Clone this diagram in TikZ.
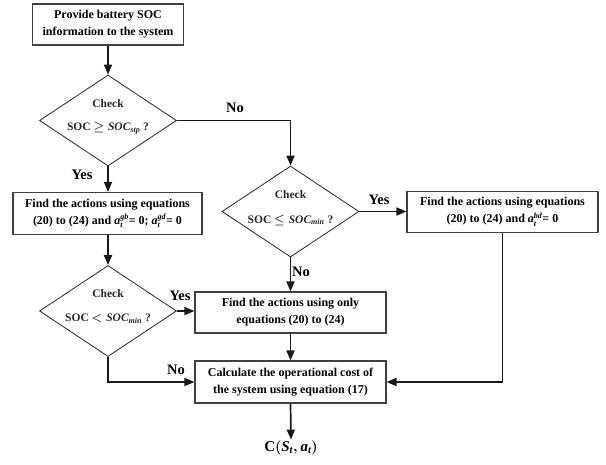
\documentclass[tikz,border=0pt]{standalone}
\usepackage{fontspec}
\setmainfont{Liberation Serif}
\usetikzlibrary{arrows.meta,shapes.geometric}
\begin{document}
\boldmath
\begin{tikzpicture}[x=1pt,y=-1pt,
  box/.style={draw=black!75, line width=1.1pt, align=center, inner sep=0pt,
    font=\fontsize{12}{17}\selectfont\bfseries},
  dia/.style={draw=black!85, line width=0.8pt, diamond, inner sep=0pt,
    minimum width=137pt, minimum height=91pt},
  dtxt/.style={inner sep=0pt, text=black!85, font=\fontsize{11.5}{14}\selectfont\bfseries},
  lbl/.style={inner sep=0pt, font=\fontsize{14.5}{16}\selectfont\bfseries},
  arr/.style={line width=1.7pt, draw=black!90, -{Triangle[length=10pt,width=8pt]}}]
\useasboundingbox (0,0) rectangle (606,464);
% boxes
\node[box, minimum width=151pt, minimum height=41pt] (b1) at (108,24.5)
  {Provide battery SOC\\information to the system};
\node[dia] (d1) at (108,120.5) {};
\node[dtxt] (d1a) at (108,103.5) {Check};
\node[dtxt] (d1b) at (108,128.5) {SOC $\geq \mathit{SOC}_{\mathit{stp}}$ ?};
\node[box, minimum width=189pt, minimum height=42pt] (b2) at (107.5,213.5)
  {Find the actions using equations\\(20) to (24) and $\mathit{a}_{\mathit{t}}^{\mathit{gb}}$= 0; $\mathit{a}_{\mathit{t}}^{\mathit{gd}}$= 0};
\node[dia] (d2) at (290.5,211.5) {};
\node[dtxt] (d2a) at (290.5,195) {Check};
\node[dtxt] (d2b) at (290.5,220) {SOC $\leq \mathit{SOC}_{\mathit{min}}$ ?};
\node[box, minimum width=191pt, minimum height=41pt] (b3) at (502.5,212)
  {Find the actions using equations\\(20) to (24) and $\mathit{a}_{\mathit{t}}^{\mathit{bd}}$= 0};
\node[dia] (d3) at (108,311) {};
\node[dtxt] (d3a) at (108,294) {Check};
\node[dtxt] (d3b) at (108,319) {SOC $<\mathit{SOC}_{\mathit{min}}$ ?};
\node[box, minimum width=191pt, minimum height=41pt] (b4) at (290.5,312.5)
  {Find the actions using only\\equations (20) to (24)};
\node[box, minimum width=191pt, minimum height=42pt] (b5) at (290.5,382)
  {Calculate the operational cost of\\the system using equation (17)};
\node[inner sep=1pt, font=\fontsize{15}{18}\selectfont\bfseries] (out) at (291,448)
  {C$(\mathit{S}_{\mathit{t}},\mathit{a}_{\mathit{t}})$};
% connectors
\draw[arr] (b1.south) -- (d1.north);
\draw[arr] (d1.south) -- (d1.south |- b2.north);
\draw[arr] (d1.east) -| (d2.north);
\draw[arr] (d2.east) -- (d2.east -| b3.west);
\draw[arr] (d2.south) -- (b4.north);
\draw[arr] (d3.north |- b2.south) -- (d3.north);
\draw[arr] (d3.east) -- (d3.east -| b4.west);
\draw[arr] (d3.south) |- (b5.west);
\draw[arr] (b4.south) -- (b5.north);
\draw[arr] (b3.south) |- (b5.east);
\draw[arr] (b5.south) -- (out.north);
% labels
\node[lbl] (l1) at (235,108) {No};
\node[lbl] (l2) at (82,175) {Yes};
\node[lbl] (l3) at (379,200) {Yes};
\node[lbl] (l4) at (301,272) {No};
\node[lbl] (l5) at (180,296) {Yes};
\node[lbl] (l6) at (176,370) {No};
\end{tikzpicture}
\end{document}
